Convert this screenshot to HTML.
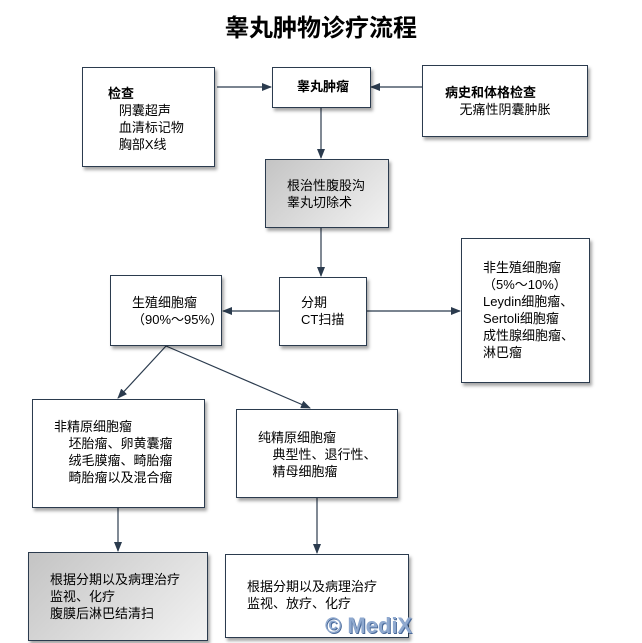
<!DOCTYPE html>
<html><head><meta charset="utf-8"><style>
body{margin:0;width:642px;height:643px;background:#fff;position:relative;overflow:hidden;font-family:"Liberation Sans","Noto Sans CJK SC",sans-serif;font-size:13px;color:#000}
.b{position:absolute;box-sizing:border-box;border:1px solid #2b3b4e;background:#fff;box-shadow:2px 3px 3px rgba(0,0,0,.35);line-height:17px}
.g{background:linear-gradient(135deg,#c4c4c4,#f2f2f2)}
.t{position:absolute;white-space:pre}
svg{position:absolute;left:0;top:0}
</style></head><body>
<div class="t" style="left:0;width:642px;text-align:center;top:8px;font-size:24px;font-weight:bold;font-family:'Noto Sans CJK SC',sans-serif">睾丸肿物诊疗流程</div>
<svg width="642" height="643"><defs><marker id="a" markerWidth="10" markerHeight="8" refX="9" refY="4" orient="auto" markerUnits="userSpaceOnUse"><path d="M0,0L10,4L0,8z" fill="#2b3b4e"/></marker></defs>
<g stroke="#2b3b4e" stroke-width="1.2" fill="none">
<line x1="217" y1="87" x2="271" y2="87" marker-end="url(#a)"/>
<line x1="422" y1="87" x2="371" y2="87" marker-end="url(#a)"/>
<line x1="321" y1="107" x2="321" y2="158" marker-end="url(#a)"/>
<line x1="321" y1="227" x2="321" y2="276" marker-end="url(#a)"/>
<line x1="279" y1="311" x2="223" y2="311" marker-end="url(#a)"/>
<line x1="366" y1="311" x2="460" y2="311" marker-end="url(#a)"/>
<line x1="166" y1="346" x2="118" y2="398" marker-end="url(#a)"/>
<line x1="166" y1="346" x2="310" y2="408" marker-end="url(#a)"/>
<line x1="118" y1="507" x2="118" y2="551" marker-end="url(#a)"/>
<line x1="317" y1="497" x2="317" y2="553" marker-end="url(#a)"/>
</g></svg>
<div class="b" style="left:82px;top:67px;width:133px;height:100px;padding:17px 0 0 25px"><b>检查</b><br>&nbsp;&nbsp;&nbsp;阴囊超声<br>&nbsp;&nbsp;&nbsp;血清标记物<br>&nbsp;&nbsp;&nbsp;胸部X线</div>
<div class="b" style="left:272px;top:67px;width:99px;height:41px;padding:10px 0 0 24px"><b>睾丸肿瘤</b></div>
<div class="b" style="left:422px;top:65px;width:166px;height:72px;padding:18px 0 0 22px"><b>病史和体格检查</b><br>&nbsp;&nbsp;&nbsp;&nbsp;无痛性阴囊肿胀</div>
<div class="b g" style="left:265px;top:159px;width:124px;height:69px;padding:17px 0 0 21px">根治性腹股沟<br>睾丸切除术</div>
<div class="b" style="left:279px;top:277px;width:88px;height:69px;padding:16px 0 0 21px">分期<br>CT扫描</div>
<div class="b" style="left:110px;top:275px;width:112px;height:71px;padding:18px 0 0 21px">生殖细胞瘤<br>（90%～95%）</div>
<div class="b" style="left:461px;top:238px;width:129px;height:145px;padding:20px 0 0 21px">非生殖细胞瘤<br>（5%～10%）<br>Leydin细胞瘤、<br>Sertoli细胞瘤<br>成性腺细胞瘤、<br>淋巴瘤</div>
<div class="b" style="left:32px;top:399px;width:173px;height:109px;padding:18px 0 0 21px">非精原细胞瘤<br>&nbsp;&nbsp;&nbsp;&nbsp;坯胎瘤、卵黄囊瘤<br>&nbsp;&nbsp;&nbsp;&nbsp;绒毛膜瘤、畸胎瘤<br>&nbsp;&nbsp;&nbsp;&nbsp;畸胎瘤以及混合瘤</div>
<div class="b" style="left:236px;top:409px;width:162px;height:89px;padding:19px 0 0 21px">纯精原细胞瘤<br>&nbsp;&nbsp;&nbsp;&nbsp;典型性、退行性、<br>&nbsp;&nbsp;&nbsp;&nbsp;精母细胞瘤</div>
<div class="b g" style="left:28px;top:552px;width:180px;height:89px;padding:18px 0 0 21px">根据分期以及病理治疗<br>监视、化疗<br>腹膜后淋巴结清扫</div>
<div class="b" style="left:225px;top:554px;width:184px;height:84px;padding:23px 0 0 21px">根据分期以及病理治疗<br>监视、放疗、化疗</div>
<div class="t" style="left:325px;top:613px;font-size:22px;font-weight:bold;color:#8fa9cf;text-shadow:1px 1px 0 #4a6a9a">© MediX</div>
</body></html>
